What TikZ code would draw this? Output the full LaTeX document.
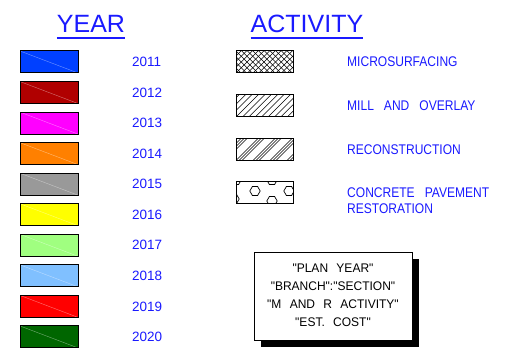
\documentclass[tikz,border=0pt]{standalone}
\usepackage{fontspec}
\setmainfont{Liberation Sans}
\newfontfamily\actfont[FakeStretch=0.86,WordSpace=3]{Liberation Sans}
\newfontfamily\cadfont[FakeStretch=0.96,WordSpace=2.5]{Liberation Sans}
\usetikzlibrary{positioning,shadows}
\definecolor{legblue}{HTML}{1A1AFF}
\definecolor{c2011}{HTML}{0040FF}
\definecolor{c2012}{HTML}{B00000}
\definecolor{c2013}{HTML}{FF00FF}
\definecolor{c2014}{HTML}{FF8000}
\definecolor{c2015}{HTML}{999999}
\definecolor{c2016}{HTML}{FFFF00}
\definecolor{c2017}{HTML}{A0FF80}
\definecolor{c2018}{HTML}{80C0FF}
\definecolor{c2019}{HTML}{FF0000}
\definecolor{c2020}{HTML}{006600}

\begin{document}
\begin{tikzpicture}[x=1pt,y=-1pt,
  title/.style={text=legblue,font=\fontsize{25}{30}\selectfont,inner sep=0pt,anchor=base},
  yearbox/.style={draw=black,line width=1pt,minimum width=58pt,minimum height=22pt,inner sep=0pt},
  yearlbl/.style={text=legblue,font=\fontsize{13.5}{15}\selectfont,inner sep=0pt,anchor=west},
  actbox/.style={draw=black,line width=1pt,minimum width=57pt,minimum height=22pt,inner sep=0pt},
  actlbl/.style={text=legblue,font=\actfont\fontsize{14}{16}\selectfont,inner sep=0pt,anchor=west,align=left},
  crosshatch/.style={actbox,path picture={
    \foreach \k in {-5,...,11}{
      \draw[line width=0.5pt] ([xshift=\k*5.7pt]path picture bounding box.south west) -- ++(26pt,26pt);
      \draw[line width=0.5pt] ([xshift=\k*5.7pt]path picture bounding box.north west) -- ++(26pt,-26pt);
    }}},
  hatch/.style={actbox,path picture={
    \foreach \k in {-4,...,10}
      \draw[line width=0.5pt] ([xshift=\k*6.4pt]path picture bounding box.south west) -- ++(26pt,26pt);
    }},
  grouphatch/.style={actbox,path picture={
    \foreach \k in {-2,...,4}
      \foreach \j in {0,...,2}
        \draw[line width=0.45pt] ([xshift=\k*17pt+\j*3pt]path picture bounding box.south west) -- ++(26pt,26pt);
    }},
  hexfill/.style={actbox,path picture={
    \foreach \hx/\hy in {-9.5/-2,7.5/-13,24.5/-2,-28.5/-13,-30.5/6,7.5/8}
      \draw[line width=0.7pt] ([shift={(\hx,\hy)}]path picture bounding box.center)
        +(0:5.2) -- +(60:5.2) -- +(120:5.2) -- +(180:5.2) -- +(240:5.2) -- +(300:5.2) -- cycle;
    }},
  infobox/.style={draw=black,line width=1pt,fill=white,minimum width=158pt,minimum height=88pt,
    inner sep=0pt,font=\cadfont\fontsize{12.5}{18}\selectfont,
    drop shadow={shadow xshift=7pt,shadow yshift=-7pt,fill=black,opacity=1}}]
\path[use as bounding box,fill=white] (0,0) rectangle (507,361);

% titles
\node[title] (ttlyear) at (91,33) {YEAR};
\draw[legblue,line width=1.5pt] ([yshift=-5pt]ttlyear.base west) -- ([yshift=-5pt]ttlyear.base east);
\node[title] (ttlact) at (307,33) {ACTIVITY};
\draw[legblue,line width=1.5pt] ([yshift=-5pt]ttlact.base west) -- ([yshift=-5pt]ttlact.base east);

% year swatches
\foreach \yr [count=\i from 0] in {2011,2012,2013,2014,2015,2016,2017,2018,2019,2020}{
  \node[yearbox,fill=c\yr,path picture={
      \draw[c\yr!55!white,line width=0.4pt] (path picture bounding box.north west) -- (path picture bounding box.south east);}]
    (sw\yr) at (49,62+30.55*\i) {};
  \node[yearlbl] (lb\yr) at (132,62+30.55*\i) {\yr};
}

% activity swatches
\node[crosshatch] (micro) at (264.5,62) {};
\node[actlbl] (microlbl) at (347,62) {MICROSURFACING};
\node[hatch] (mill) at (264.5,106) {};
\node[actlbl] (milllbl) at (347,106) {MILL AND OVERLAY};
\node[grouphatch] (recon) at (264.5,149.5) {};
\node[actlbl] (reconlbl) at (347,149.5) {RECONSTRUCTION};
\node[hexfill] (cpr) at (264.5,193) {};
\node[actlbl] (cprlbl) at (347,201) {CONCRETE PAVEMENT\\RESTORATION};

% label box
\node[infobox] (info) at (333,296) {\raisebox{-4pt}{\begin{tabular}{@{}c@{}}"PLAN YEAR"\\"BRANCH":"SECTION"\\"M AND R ACTIVITY"\\"EST. COST"\end{tabular}}};
\end{tikzpicture}
\end{document}
